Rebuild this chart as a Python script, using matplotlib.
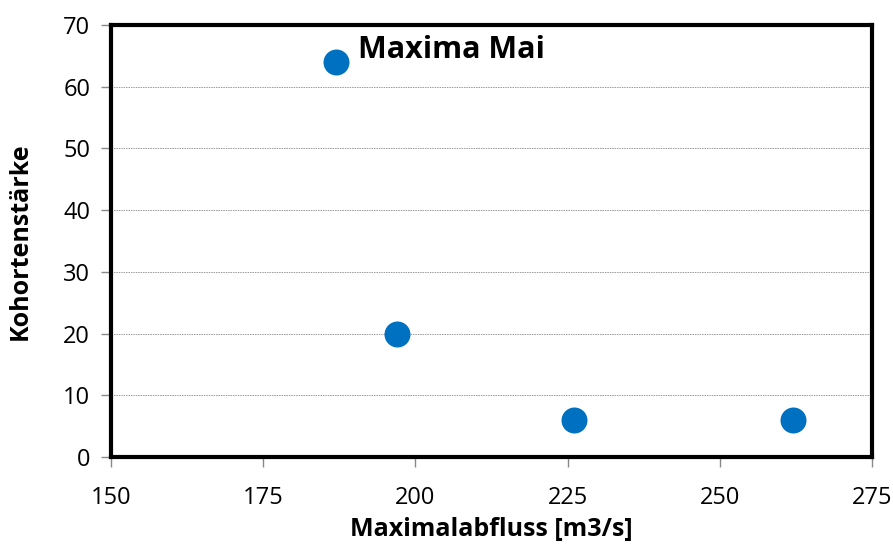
import matplotlib

matplotlib.use("Agg")
import matplotlib.pyplot as plt  # noqa: E402

# peak discharge vs. cohort strength
abfluss = [187, 197, 226, 262]
kohorte = [64, 20, 6, 6]
x_ticks = [150, 175, 200, 225, 250, 275]
y_ticks = [0, 10, 20, 30, 40, 50, 60, 70]

plt.rcParams["font.family"] = ["Open Sans", "DejaVu Sans"]

fig = plt.figure(figsize=(8.93, 5.49), dpi=100)
ax = fig.add_axes([111 / 893, 1 - 457 / 549, (872 - 111) / 893, (457 - 25) / 549])

ax.scatter(abfluss, kohorte, s=350, color="#0070C0", zorder=3, linewidths=0)
ax.text(190.6, 66, "Maxima Mai", fontsize=22, fontweight="bold", va="center", ha="left")

ax.set_xlim(150, 275)
ax.set_ylim(0, 70)
ax.set_xticks(x_ticks)
ax.set_yticks(y_ticks)
ax.yaxis.grid(True, linestyle=(0, (1.5, 1)), color="#999999", linewidth=0.7)
ax.set_axisbelow(True)

for sp in ax.spines.values():
    sp.set_linewidth(3)
    sp.set_color("black")
ax.tick_params(axis="both", labelsize=17, length=7, width=1, color="#888888")
ax.tick_params(axis="x", pad=14)
ax.tick_params(axis="y", pad=8)

ax.set_xlabel("Maximalabfluss [m3/s]", fontsize=18, fontweight="bold", labelpad=5)
ax.set_ylabel("Kohortenstärke", fontsize=18, fontweight="bold", labelpad=22)

fig.savefig("out.png", dpi=100)
